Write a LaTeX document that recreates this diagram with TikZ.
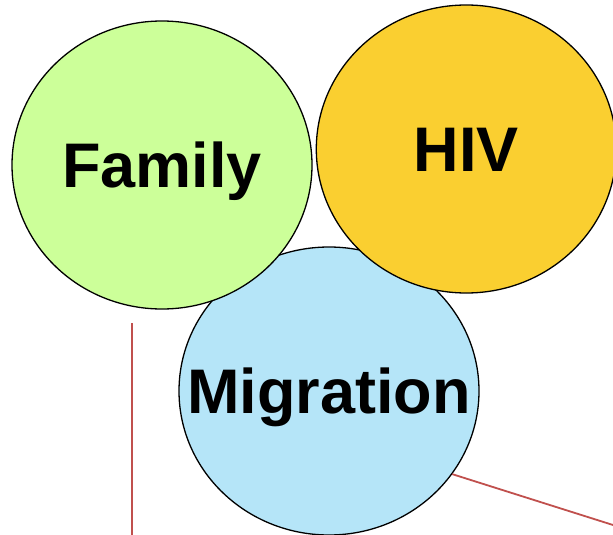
\documentclass[tikz,border=0pt]{standalone}
\usepackage{fontspec}
\setmainfont{Liberation Sans}
\usetikzlibrary{shapes.geometric,positioning}
\definecolor{famgreen}{RGB}{204,255,153}
\definecolor{hivyellow}{RGB}{250,207,48}
\definecolor{migblue}{RGB}{181,229,248}
\definecolor{linkred}{RGB}{192,80,77}
\newcommand{\topiclbl}[1]{\makebox[0pt]{#1}}
\tikzset{
  topic/.style={ellipse, draw=black, line width=1.3pt, minimum width=300pt,
    minimum height=288pt, inner sep=0pt,
    font=\fontsize{63}{63}\selectfont\bfseries, text height=45pt, text depth=0pt},
  link/.style={draw=linkred, line width=1.8pt}
}

\begin{document}
\begin{tikzpicture}[x=1pt,y=-1pt]
  \useasboundingbox (0,0) rectangle (613,535);
  % Define nodes
  \node[topic, fill=migblue]   (mig) at (329,391) {\topiclbl{Migration}};
  \node[topic, fill=famgreen]  (fam) at (162,165) {\topiclbl{Family}};
  \node[topic, fill=hivyellow, right=3pt of fam, yshift=16pt] (hiv) {\topiclbl{HIV}};
  \coordinate (ftop) at (132,323);
  \coordinate (fend) at (132,535);
  \coordinate (mend) at (613,525);

  % Connect the nodes
  \draw[link] (ftop) -- (fend);
  \draw[link] (mig.-34) -- (mend);
\end{tikzpicture}
\end{document}
